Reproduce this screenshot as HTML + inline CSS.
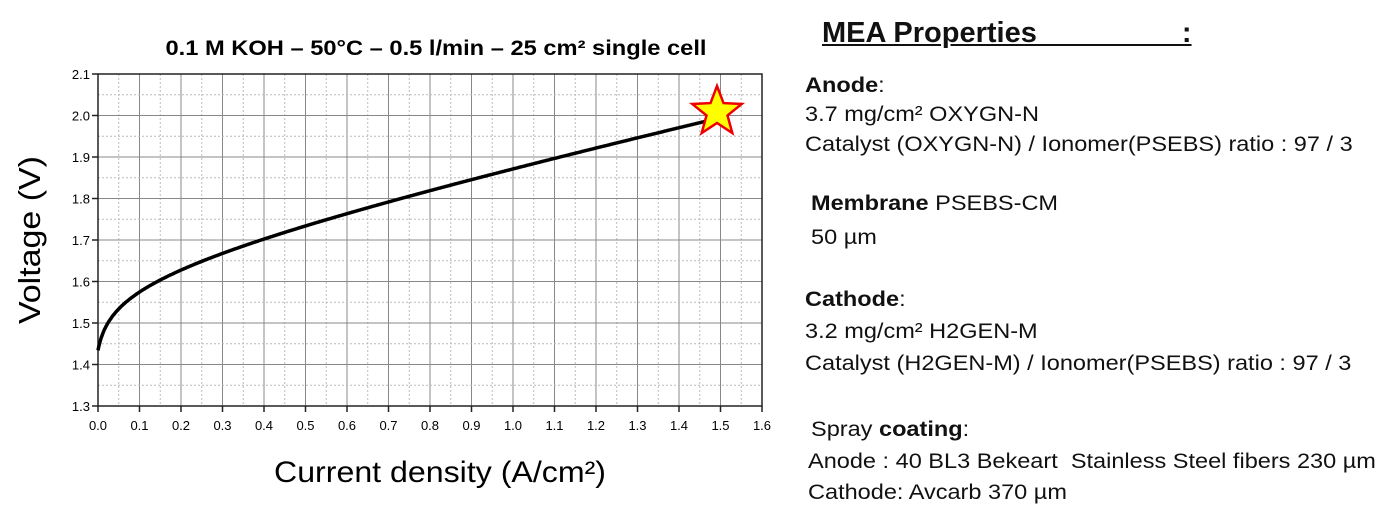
<!DOCTYPE html>
<html><head><meta charset="utf-8"><style>
body{margin:0;width:1392px;height:512px;background:#fff;overflow:hidden;font-family:"Liberation Sans",sans-serif;position:relative}
.t{position:absolute;white-space:nowrap;font-size:21px;color:#111;transform:scaleX(1.12);transform-origin:0 0}
</style></head><body>
<svg width="780" height="512" style="position:absolute;left:0;top:0" id="s">
<text x="436" y="55" text-anchor="middle" font-size="21" font-weight="bold" font-family="Liberation Sans" textLength="541" lengthAdjust="spacingAndGlyphs">0.1 M KOH – 50°C – 0.5 l/min – 25 cm² single cell</text>
<g id="g"></g>
<text x="440" y="482" text-anchor="middle" font-size="30" font-family="Liberation Sans" textLength="332" lengthAdjust="spacingAndGlyphs">Current density (A/cm²)</text>
<text transform="translate(40,240) rotate(-90)" text-anchor="middle" font-size="31" font-family="Liberation Sans" textLength="168" lengthAdjust="spacingAndGlyphs">Voltage (V)</text>
</svg>
<script>
var L=98,R=762,T=74,B=406,g=document.getElementById('g'),h='';
function X(j){return L+(R-L)*j/1.6}function Y(v){return T+(B-T)*(2.1-v)/0.8}
for(var i=1;i<32;i++){var x=L+(R-L)*i/32;h+='<line x1="'+x+'" y1="'+T+'" x2="'+x+'" y2="'+B+'" stroke="'+(i%2?'#bbb':'#888')+'" stroke-width="1" '+(i%2?'stroke-dasharray="2,2"':'')+'/>';}
for(var i=1;i<16;i++){var y=T+(B-T)*i/16;h+='<line x1="'+L+'" y1="'+y+'" x2="'+R+'" y2="'+y+'" stroke="'+(i%2?'#bbb':'#888')+'" stroke-width="1" '+(i%2?'stroke-dasharray="2,2"':'')+'/>';}
h+='<rect x="'+L+'" y="'+T+'" width="'+(R-L)+'" height="'+(B-T)+'" fill="none" stroke="#222" stroke-width="1.5"/>';
for(var i=0;i<=16;i++){var x=L+(R-L)*i/16;h+='<line x1="'+x+'" y1="'+B+'" x2="'+x+'" y2="'+(B+6)+'" stroke="#222" stroke-width="1.5"/><text x="'+x+'" y="'+(B+24)+'" font-size="13" text-anchor="middle" font-family="Liberation Sans">'+(i/10).toFixed(1)+'</text>';}
for(var i=0;i<=8;i++){var y=T+(B-T)*i/8;h+='<line x1="'+(L-6)+'" y1="'+y+'" x2="'+L+'" y2="'+y+'" stroke="#222" stroke-width="1.5"/><text x="'+(L-8)+'" y="'+(y+5)+'" font-size="13" text-anchor="end" font-family="Liberation Sans">'+(2.1-i/10).toFixed(1)+'</text>';}
var d='';for(var j=0;j<=1.48;j+=0.002){var v=1.434+0.05*Math.log(1+j/0.01)+0.2065*j;d+=(d?' L':'M')+X(j).toFixed(1)+','+Y(v).toFixed(1);}
h+='<path d="'+d+'" fill="none" stroke="#000" stroke-width="3.5" stroke-linejoin="round"/>';
var cx=717,cy=112,s='';for(var k=0;k<10;k++){var r=k%2?11:26,a=-Math.PI/2+k*Math.PI/5;s+=(cx+r*Math.cos(a)).toFixed(1)+','+(cy+r*Math.sin(a)).toFixed(1)+' ';}
h+='<polygon points="'+s+'" fill="#ffff00" stroke="#e00" stroke-width="2.5"/>';
g.innerHTML=h;
</script>
<div class="t" style="left:822px;top:17px;font-size:29px;font-weight:bold;text-decoration:underline;transform:none">MEA Properties&nbsp;&nbsp;&nbsp;&nbsp;&nbsp;&nbsp;&nbsp;&nbsp;&nbsp;&nbsp;&nbsp;&nbsp;&nbsp;&nbsp;&nbsp;&nbsp;&nbsp;&nbsp;:</div>
<div class="t" style="left:805px;top:74px"><b>Anode</b>:</div>
<div class="t" style="left:805px;top:103px">3.7 mg/cm² OXYGN-N</div>
<div class="t" style="left:805px;top:133px">Catalyst (OXYGN-N) / Ionomer(PSEBS) ratio : 97 / 3</div>
<div class="t" style="left:811px;top:192px"><b>Membrane</b> PSEBS-CM</div>
<div class="t" style="left:811px;top:226px">50 µm</div>
<div class="t" style="left:805px;top:288px"><b>Cathode</b>:</div>
<div class="t" style="left:805px;top:320px">3.2 mg/cm² H2GEN-M</div>
<div class="t" style="left:805px;top:352px">Catalyst (H2GEN-M) / Ionomer(PSEBS) ratio : 97 / 3</div>
<div class="t" style="left:811px;top:418px">Spray <b>coating</b>:</div>
<div class="t" style="left:808px;top:450px">Anode : 40 BL3 Bekeart&nbsp; Stainless Steel fibers 230 µm</div>
<div class="t" style="left:808px;top:481px">Cathode: Avcarb 370 µm</div>
</body></html>
